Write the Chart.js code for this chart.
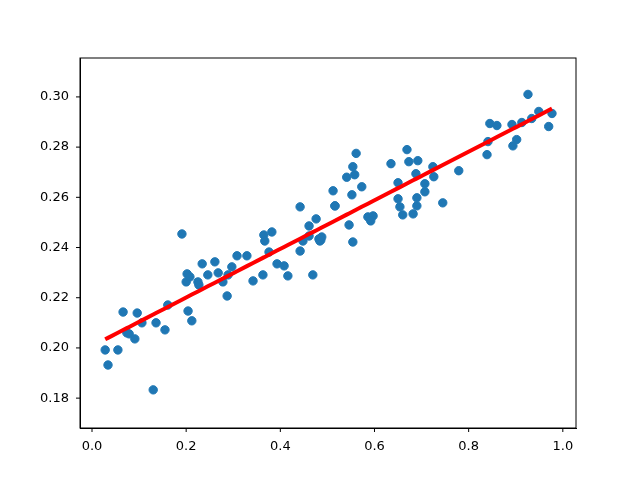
<!DOCTYPE html>
<html>
<head>
<meta charset="utf-8">
<script src="https://cdn.jsdelivr.net/npm/chart.js@4"></script>
<style>
  html, body { margin: 0; padding: 0; background: #fff; }
  #wrap { width: 640px; height: 480px; }
</style>
</head>
<body>
<div id="wrap"><canvas id="chart" width="640" height="480"></canvas></div>
<script>
// Scatter data
const xValues = [
  0.028, 0.034, 0.055, 0.066, 0.096, 0.074, 0.079, 0.091, 0.106, 0.136, 0.155, 0.161, 0.130,
  0.191, 0.202, 0.200, 0.208, 0.204, 0.212, 0.225, 0.227, 0.234, 0.246, 0.261, 0.268, 0.278,
  0.287, 0.289, 0.297, 0.308, 0.329, 0.342, 0.363, 0.365, 0.367, 0.382, 0.376, 0.393, 0.408,
  0.416, 0.442, 0.442, 0.448, 0.461, 0.461, 0.476, 0.482, 0.484, 0.469, 0.516,
  0.486, 0.488, 0.512, 0.516, 0.546, 0.554, 0.541, 0.554, 0.558, 0.561, 0.552, 0.573, 0.586,
  0.597, 0.592, 0.635, 0.650, 0.650, 0.654, 0.660, 0.669, 0.673, 0.692, 0.688, 0.707, 0.690,
  0.707, 0.690, 0.682, 0.724, 0.726, 0.745, 0.779, 0.839, 0.841, 0.845, 0.860, 0.892, 0.902,
  0.894, 0.913, 0.926, 0.934, 0.949, 0.977, 0.970
];
const yValues = [
  0.1992, 0.1932, 0.1992, 0.2143, 0.2139, 0.2060, 0.2056, 0.2036, 0.2100, 0.2100, 0.2072, 0.2171, 0.1833,
  0.2454, 0.2295, 0.2263, 0.2283, 0.2147, 0.2108, 0.2263, 0.2251, 0.2335, 0.2291, 0.2343, 0.2299, 0.2263,
  0.2207, 0.2291, 0.2323, 0.2367, 0.2367, 0.2267, 0.2291, 0.2450, 0.2426, 0.2462, 0.2382, 0.2335, 0.2327,
  0.2287, 0.2562, 0.2386, 0.2426, 0.2486, 0.2446, 0.2514, 0.2434, 0.2426, 0.2291, 0.2566,
  0.2430, 0.2442, 0.2626, 0.2566, 0.2490, 0.2422, 0.2680, 0.2722, 0.2690, 0.2775, 0.2610, 0.2642, 0.2522,
  0.2526, 0.2506, 0.2734, 0.2658, 0.2594, 0.2562, 0.2530, 0.2790, 0.2742, 0.2746, 0.2694, 0.2654, 0.2598,
  0.2622, 0.2566, 0.2534, 0.2722, 0.2682, 0.2578, 0.2706, 0.2770, 0.2822, 0.2894, 0.2886, 0.2890, 0.2830,
  0.2805, 0.2898, 0.3010, 0.2914, 0.2942, 0.2934, 0.2882
];
const xTicks = [0.0, 0.2, 0.4, 0.6, 0.8, 1.0];
const yTicks = [0.18, 0.20, 0.22, 0.24, 0.26, 0.28, 0.30];

// least squares fit over the points
const n = xValues.length;
const mx = xValues.reduce((a, b) => a + b, 0) / n;
const my = yValues.reduce((a, b) => a + b, 0) / n;
let sxy = 0, sxx = 0;
for (let i = 0; i < n; i++) {
  sxy += (xValues[i] - mx) * (yValues[i] - my);
  sxx += (xValues[i] - mx) ** 2;
}
const slope = sxy / sxx;
const intercept = my - slope * mx;
const fitLine = [...xValues].sort((a, b) => a - b).map(x => ({ x: x, y: intercept + slope * x }));

const points = xValues.map((x, i) => ({ x: x, y: yValues[i] }));
const tickFont = { family: 'DejaVu Sans', size: 13 };

new Chart(document.getElementById('chart').getContext('2d'), {
  type: 'scatter',
  data: {
    datasets: [
      {
        data: points,
        backgroundColor: '#1f77b4',
        borderColor: '#1f77b4',
        pointRadius: 4.2,
        pointHoverRadius: 4.2,
        order: 2
      },
      {
        type: 'line',
        data: fitLine,
        borderColor: '#ff0000',
        borderWidth: 4,
        pointRadius: 0,
        fill: false,
        order: 1
      }
    ]
  },
  options: {
    responsive: false,
    animation: false,
    layout: { padding: { top: 58, right: 64, left: 0, bottom: 0 } },
    plugins: { legend: { display: false }, tooltip: { enabled: false } },
    scales: {
      x: {
        type: 'linear',
        min: -0.0255,
        max: 1.028,
        afterBuildTicks: axis => { axis.ticks = xTicks.map(v => ({ value: v })); },
        afterFit: axis => { axis.height = 52; },
        grid: { display: false, drawTicks: true },
        border: { color: '#000', width: 1 },
        ticks: { color: '#000', font: tickFont, maxRotation: 0, callback: v => v.toFixed(1) }
      },
      y: {
        min: 0.1681,
        max: 0.3155,
        afterBuildTicks: axis => { axis.ticks = yTicks.map(v => ({ value: v })); },
        afterFit: axis => { axis.width = 80; },
        grid: { display: false },
        border: { color: '#000', width: 1 },
        ticks: { color: '#000', font: tickFont, callback: v => v.toFixed(2) }
      }
    }
  },
  plugins: [{
    id: 'frame',
    afterDraw(chart) {
      const { ctx, chartArea: a } = chart;
      ctx.save();
      ctx.strokeStyle = '#000';
      ctx.lineWidth = 1;
      ctx.strokeRect(a.left, a.top, a.right - a.left, a.bottom - a.top);
      // outward tick marks like matplotlib
      ctx.beginPath();
      xTicks.forEach(v => {
        const px = chart.scales.x.getPixelForValue(v);
        ctx.moveTo(px, a.bottom); ctx.lineTo(px, a.bottom + 4);
      });
      yTicks.forEach(v => {
        const py = chart.scales.y.getPixelForValue(v);
        ctx.moveTo(a.left, py); ctx.lineTo(a.left - 4, py);
      });
      ctx.stroke();
      ctx.restore();
    }
  }]
});
</script>
</body>
</html>
